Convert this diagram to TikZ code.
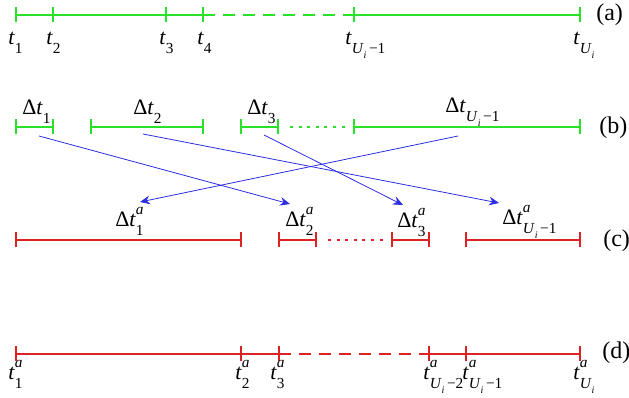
\documentclass[tikz,border=0pt]{standalone}
\usepackage{fontspec}
\setmainfont{Liberation Serif}
\usetikzlibrary{arrows.meta}
\definecolor{gr}{RGB}{40,225,40}
\definecolor{rd}{RGB}{220,35,35}
\definecolor{bl}{RGB}{45,45,225}
\newcommand\scr{\fontsize{11.5}{13}\selectfont}
\newcommand\Ui{\textit{U}\raisebox{-0.3em}{\fontsize{7.5}{8}\selectfont\itshape i}}
\newcommand\tsub[1]{\textit{t}\raisebox{-0.4em}{\scr #1}}
\newcommand\tsup[2]{\textit{t}\rlap{\raisebox{0.55em}{\scr\itshape #1}}\raisebox{-0.4em}{\scr #2}}
\newcommand\tickat[2]{\draw[#1] (#2) ++(0,-7.5) -- ++(0,15);}
\begin{document}
\begin{tikzpicture}[x=0.75pt,y=-0.75pt,
  every node/.style={inner sep=0pt,font=\fontsize{16.5}{19}\selectfont},
  gline/.style={draw=gr,line width=1.5pt},
  rline/.style={draw=rd,line width=1.5pt},
  gdash/.style={gline,dash pattern=on 9pt off 6pt},
  rdash/.style={rline,dash pattern=on 9pt off 6pt},
  gdot/.style={gline,line width=1.8pt,dash pattern=on 2.3pt off 4.15pt},
  rdot/.style={rline,line width=1.8pt,dash pattern=on 2.3pt off 4.15pt},
  arr/.style={draw=bl,line width=0.6pt,-{Stealth[length=7.5pt,width=6.5pt,inset=2.5pt]}},
  lbl/.style={anchor=base west},
  tag/.style={anchor=base west,font=\fontsize{18}{21}\selectfont}]
\useasboundingbox (0,0) rectangle (629,398);
% ---- row (a)
\coordinate (a1) at (16,15); \coordinate (a2) at (53,15);
\coordinate (a3) at (166,15); \coordinate (a4) at (203,15);
\coordinate (a5) at (354,15); \coordinate (a6) at (580,15);
\draw[gline] (a1) -- (a4);
\draw[gdash] (a4) -- (a5);
\draw[gline] (a5) -- (a6);
\foreach \p in {a1,a2,a3,a4,a5,a6} {\tickat{gline}{\p}}
\node[lbl] (ta1) at (8,45) {\tsub{1}};
\node[lbl] (ta2) at (46,45) {\tsub{2}};
\node[lbl] (ta3) at (159,45) {\tsub{3}};
\node[lbl] (ta4) at (197,45) {\tsub{4}};
\node[lbl] (ta5) at (345,45) {\tsub{\Ui\,−1}};
\node[lbl] (ta6) at (573,45) {\tsub{\Ui}};
\node[tag] (la) at (596,21) {(a)};
% ---- row (b)
\coordinate (b1l) at (16,127); \coordinate (b1r) at (53,127);
\coordinate (b2l) at (91,127); \coordinate (b2r) at (203,127);
\coordinate (b3l) at (241,127); \coordinate (b3r) at (278,127);
\coordinate (bd1) at (290,127); \coordinate (bd2) at (346,127);
\coordinate (b4l) at (354,127); \coordinate (b4r) at (580,127);
\draw[gline] (b1l) -- (b1r); \draw[gline] (b2l) -- (b2r);
\draw[gline] (b3l) -- (b3r); \draw[gdot] (bd1) -- (bd2);
\draw[gline] (b4l) -- (b4r);
\foreach \p in {b1l,b1r,b2l,b2r,b3l,b3r,b4l,b4r} {\tickat{gline}{\p}}
\node[lbl] (db1) at (22,115) {Δ\tsub{1}};
\node[lbl] (db2) at (133,115) {Δ\tsub{2}};
\node[lbl] (db3) at (247,115) {Δ\tsub{3}};
\node[lbl] (db4) at (445,113) {Δ\tsub{\Ui\,−1}};
\node[tag] (lb) at (599,134) {(b)};
% ---- row (c)
\coordinate (c1l) at (16,240); \coordinate (c1r) at (241,240);
\coordinate (c2l) at (279,240); \coordinate (c2r) at (316,240);
\coordinate (cd1) at (328,240); \coordinate (cd2) at (383,240);
\coordinate (c3l) at (392,240); \coordinate (c3r) at (429,240);
\coordinate (c4l) at (466,240); \coordinate (c4r) at (580,240);
\draw[rline] (c1l) -- (c1r); \draw[rline] (c2l) -- (c2r);
\draw[rdot] (cd1) -- (cd2);
\draw[rline] (c3l) -- (c3r); \draw[rline] (c4l) -- (c4r);
\foreach \p in {c1l,c1r,c2l,c2r,c3l,c3r,c4l,c4r} {\tickat{rline}{\p}}
\node[lbl] (dc1) at (115,227) {Δ\tsup{a}{1}};
\node[lbl] (dc2) at (285,227) {Δ\tsup{a}{2}};
\node[lbl] (dc3) at (397,228) {Δ\tsup{a}{3}};
\node[lbl] (dc4) at (502,225) {Δ\tsup{a}{\Ui\,−1}};
\node[tag] (lc) at (603,247) {(c)};
% ---- row (d)
\coordinate (d1) at (16,354); \coordinate (d2) at (241,354);
\coordinate (d3) at (279,354); \coordinate (d4) at (429,354);
\coordinate (d5) at (466,354); \coordinate (d6) at (580,354);
\draw[rline] (d1) -- (d3);
\draw[rdash] (d3) -- (d4);
\draw[rline] (d4) -- (d6);
\foreach \p in {d1,d2,d3,d4,d5,d6} {\tickat{rline}{\p}}
\node[lbl] (td1) at (8,380) {\tsup{a}{1}};
\node[lbl] (td2) at (235,380) {\tsup{a}{2}};
\node[lbl] (td3) at (270,380) {\tsup{a}{3}};
\node[lbl] (td4) at (423,380) {\tsup{a}{\Ui\,−2}};
\node[lbl] (td5) at (462,380) {\tsup{a}{\Ui\,−1}};
\node[lbl] (td6) at (573,380) {\tsup{a}{\Ui}};
\node[tag] (ld) at (602,359) {(d)};
% ---- arrows
\coordinate (s1) at (39,136); \coordinate (e1) at (290,204);
\coordinate (s2) at (143,134); \coordinate (e2) at (499,203);
\coordinate (s3) at (264,135); \coordinate (e3) at (403,205);
\coordinate (s4) at (458,136); \coordinate (e4) at (140,202);
\draw[arr] (s1) -- (e1);
\draw[arr] (s2) -- (e2);
\draw[arr] (s3) -- (e3);
\draw[arr] (s4) -- (e4);
\end{tikzpicture}
\end{document}
